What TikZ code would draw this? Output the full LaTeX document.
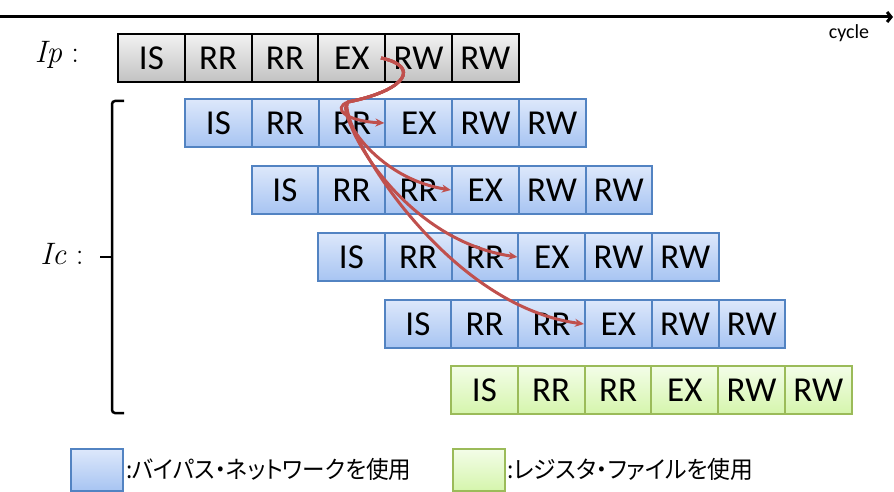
\documentclass[tikz,border=0pt]{standalone}
\usepackage{fontspec}
\setmainfont{Carlito}
\newfontfamily\jp[RawFeature=+palt]{Noto Sans CJK JP}
\newfontfamily\lmr{Latin Modern Roman}
\usetikzlibrary{arrows.meta}
\definecolor{bluetop}{HTML}{DDE8FB}
\definecolor{bluebot}{HTML}{A7C4F2}
\definecolor{blueline}{HTML}{5283C2}
\definecolor{graytop}{HTML}{F2F2F2}
\definecolor{graybot}{HTML}{C2C2C2}
\definecolor{greentop}{HTML}{F3FDE8}
\definecolor{greenbot}{HTML}{D5F5AC}
\definecolor{greenline}{HTML}{9BBB59}
\definecolor{redarrow}{HTML}{C0504D}
\begin{document}
\begin{tikzpicture}[x=1pt,y=-1pt,
 cell/.style={minimum width=66.8pt, minimum height=48pt, inner sep=0pt, anchor=north west, font=\fontsize{35}{35}\selectfont, line width=2pt},
 ipcell/.style={cell, draw=black, top color=graytop, bottom color=graybot},
 iccell/.style={cell, draw=blueline, top color=bluetop, bottom color=bluebot},
 rfcell/.style={cell, draw=greenline, top color=greentop, bottom color=greenbot},
 legbox/.style={minimum width=52pt, minimum height=42pt, inner sep=0pt, anchor=north west, line width=2pt},
 legtext/.style={anchor=west, inner sep=0pt, font=\jp\fontsize{24}{24}\selectfont},
 lbl/.style={font=\lmr\fontsize{31}{31}\selectfont},
 dep/.style={draw=redarrow, line width=3pt, -{Stealth[length=9pt,width=8pt]}},
]
\useasboundingbox (0,0) rectangle (894,492);
% time axis
\coordinate (axs) at (0,17);
\coordinate (axe) at (893,17);
\draw[line width=3pt, -{Straight Barb[length=4pt,width=10pt]}] (axs) -- (axe);
\node[font=\fontsize{20}{20}\selectfont] (cyc) at (849,33) {cycle};
% labels
\node[lbl] (iplbl) at (57,55) {\textit{Ip} :};
\node[lbl] (iclbl) at (62,254) {\textit{Ic} :};
% rows
\foreach \t [count=\i from 0] in {IS,RR,RR,EX,RW,RW} {
 \node[ipcell] (p\i) at (117+\i*66.8, 33) {\t};
 \node[iccell] (a\i) at (184+\i*66.8, 98) {\t};
 \node[iccell] (b\i) at (250.5+\i*66.8, 165) {\t};
 \node[iccell] (c\i) at (317+\i*66.8, 232) {\t};
 \node[iccell] (d\i) at (383.5+\i*66.8, 299) {\t};
 \node[rfcell] (g\i) at (450+\i*66.8, 365) {\t};
}
% brace
\draw[line width=2.5pt, rounded corners=3pt] (124,101) -- (112,101) -- (112,413) -- (124,413);
\draw[line width=2.5pt] (112,257) -- (100,257);
% dependency arrows
\coordinate (src) at (381,58);
\coordinate (mid) at (348,102);
\draw[dep] (src) .. controls (420,66) and (408,90) .. (mid) .. controls (332,108) and (345,121) .. (a3.west);
\draw[dep] (src) .. controls (420,66) and (408,90) .. (mid) .. controls (335,112) and (375,178) .. (b3.west);
\draw[dep] (src) .. controls (420,66) and (408,90) .. (mid) .. controls (335,115) and (400,240) .. (c3.west);
\draw[dep] (src) .. controls (420,66) and (408,90) .. (mid) .. controls (335,118) and (440,305) .. (d3.west);
% legend
\node[legbox, draw=blueline, top color=bluetop, bottom color=bluebot] (lb) at (70,448) {};
\node[legtext] (lbt) at (126,469) {\scalebox{0.94}[1]{:バイパス・ネットワークを使用}};
\node[legbox, draw=greenline, top color=greentop, bottom color=greenbot] (lg) at (452,448) {};
\node[legtext] (lgt) at (507,469) {\scalebox{0.95}[1]{:レジスタ・ファイルを使用}};
\end{tikzpicture}
\end{document}
